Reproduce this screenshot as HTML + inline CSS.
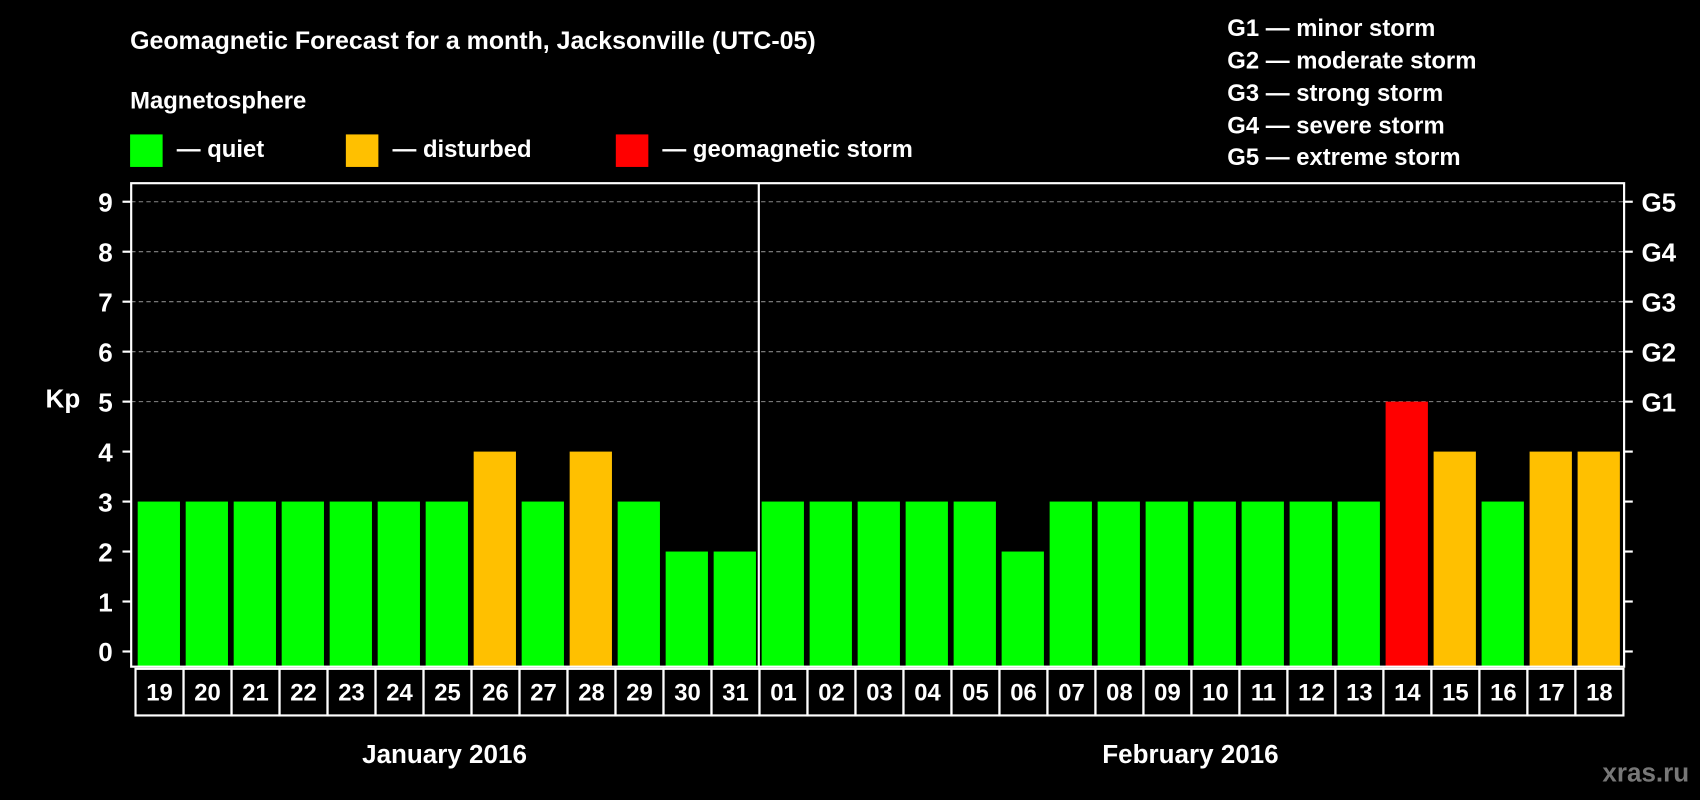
<!DOCTYPE html>
<html><head><meta charset="utf-8"><style>
html,body{margin:0;padding:0;background:#000;}
svg{display:block;}
text{font-family:"Liberation Sans",Arial,sans-serif;font-weight:bold;fill:#fff;}
</style></head><body>
<svg id="chart" width="1700" height="800" viewBox="0 0 1568 738" preserveAspectRatio="none" xmlns="http://www.w3.org/2000/svg">
<rect x="0" y="0" width="1568" height="738" fill="#000"/>
<text x="120" y="45" font-size="23">Geomagnetic Forecast for a month, Jacksonville (UTC-05)</text>
<text x="120" y="100" font-size="22">Magnetosphere</text>
<g><rect x="120" y="124" width="30" height="30" fill="#00ff00"/><text x="163" y="145" font-size="22">— quiet</text></g>
<g><rect x="319" y="124" width="30" height="30" fill="#ffc000"/><text x="362" y="145" font-size="22">— disturbed</text></g>
<g><rect x="568" y="124" width="30" height="30" fill="#ff0000"/><text x="611" y="145" font-size="22">— geomagnetic storm</text></g>
<g font-size="22">
<text x="1132" y="33">G1 — minor storm</text>
<text x="1132" y="63">G2 — moderate storm</text>
<text x="1132" y="93">G3 — strong storm</text>
<text x="1132" y="123">G4 — severe storm</text>
<text x="1132" y="152">G5 — extreme storm</text>
</g>
<text x="58" y="376" font-size="24" text-anchor="middle">Kp</text>
<text x="410" y="704" font-size="24" text-anchor="middle">January 2016</text>
<text x="1098" y="704" font-size="24" text-anchor="middle">February 2016</text>
<text x="1558" y="721" font-size="24" text-anchor="end" style="fill:#777">xras.ru</text>
<g id="grid"></g><g id="bars"></g><g id="axes"></g>
</svg>
<script>
const days = ["19","20","21","22","23","24","25","26","27","28","29","30","31","01","02","03","04","05","06","07","08","09","10","11","12","13","14","15","16","17","18"];
const kpValues = [3,3,3,3,3,3,3,4,3,4,3,2,2,3,3,3,3,3,2,3,3,3,3,3,3,3,5,4,3,4,4];
const yTicks = [0,1,2,3,4,5,6,7,8,9];
const gLabels = ["","","","","","G1","G2","G3","G4","G5"];
const NS="http://www.w3.org/2000/svg";
const L=121,R=1498,T=169,B=615,X0=127,P=44.27,BW=39;
function y(v){return 601-v*46.1;}
function x(i){return X0+i*P;}
function mk(tag,attrs,parent){const e=document.createElementNS(NS,tag);for(const k in attrs)e.setAttribute(k,attrs[k]);parent.appendChild(e);return e;}
const grid=document.getElementById('grid'),bars=document.getElementById('bars'),axes=document.getElementById('axes');
yTicks.forEach((v,i)=>{
  if(v>=5){const g=mk('line',{x1:L,x2:R,y1:y(v),y2:y(v),stroke:'#888','stroke-dasharray':'4,3','stroke-width':1},grid);
  
  }
  mk('line',{x1:L-8,x2:L,y1:y(v),y2:y(v),stroke:'#fff','stroke-width':2},axes);
  mk('line',{x1:R,x2:R+8,y1:y(v),y2:y(v),stroke:'#fff','stroke-width':2},axes);
  const t=mk('text',{x:104,y:y(v)+9,'font-size':24,'text-anchor':'end'},axes);t.textContent=v;
  
  
  if(gLabels[i]){const g=mk('text',{x:1514,y:y(v)+9,'font-size':24},axes);g.textContent=gLabels[i];
  
  }
});
kpValues.forEach((v,i)=>{
  const c=v>=5?'#ff0000':(v>=4?'#ffc000':'#00ff00');
  const r=mk('rect',{x:x(i),y:y(v),width:BW,height:B-y(v),fill:c},bars);
  
  
  const bx=125+i*P;
  const b=mk('rect',{x:bx,y:617,width:P,height:43,fill:'none',stroke:'#fff','stroke-width':2},axes);
  
  
  const t=mk('text',{x:bx+P/2,y:646,'font-size':22,'text-anchor':'middle'},axes);t.textContent=days[i];
  
  
});
const fr=mk('rect',{x:L,y:T,width:R-L,height:B-T,fill:'none',stroke:'#fff','stroke-width':2},axes);


const dv=mk('line',{x1:(x(12)+BW+x(13))/2,x2:(x(12)+BW+x(13))/2,y1:T,y2:B,stroke:'#fff','stroke-width':2},axes);


</script>
</body></html>
